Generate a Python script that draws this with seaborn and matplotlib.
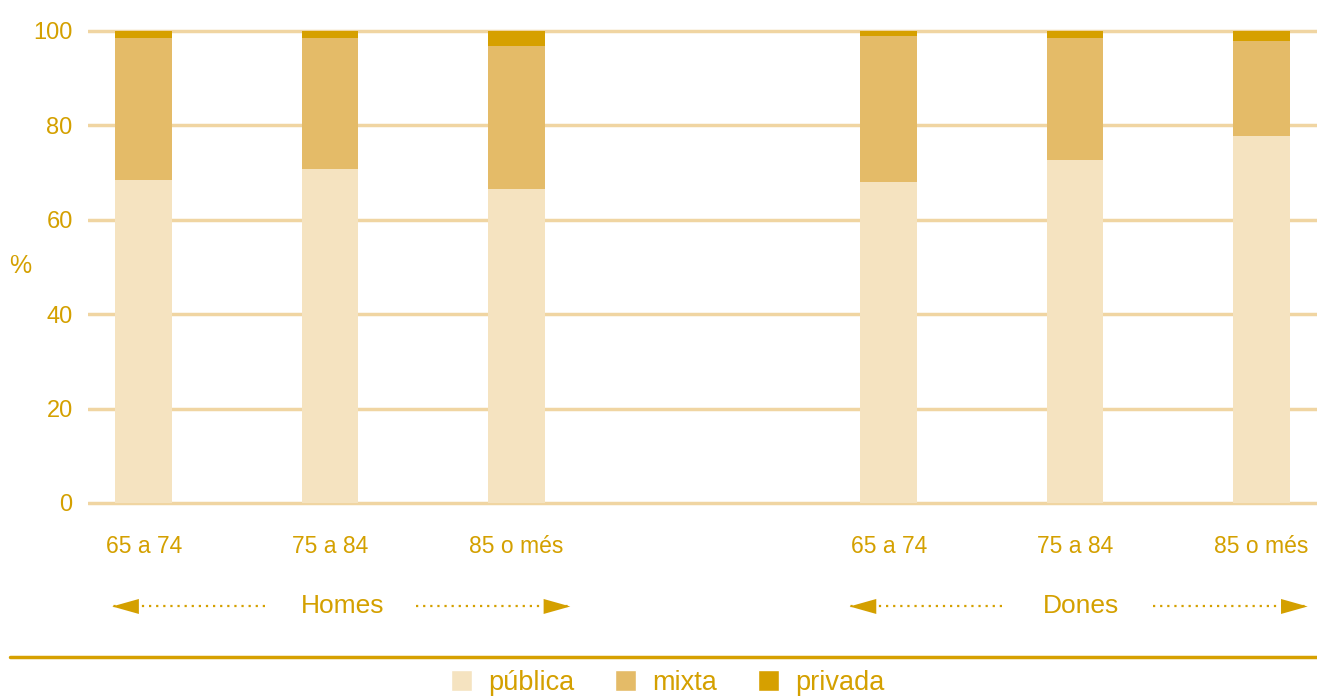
import matplotlib.pyplot as plt
import seaborn as sns
import pandas as pd
import numpy as np
from matplotlib.patches import Patch

# dades
grups = ['Homes', 'Dones']
edats = ['65 a 74', '75 a 84', '85 o més']
publica = [68.4, 70.8, 66.5, 68.0, 72.7, 77.8]
mixta = [30.1, 27.7, 30.3, 30.9, 25.8, 20.1]
privada = [1.5, 1.5, 3.2, 1.1, 1.5, 2.1]
posicions = [0, 1, 2, 4, 5, 6]

c_pub = '#F5E3C0'
c_mix = '#E4BB68'
c_priv = '#D6A000'
c_text = '#D4A000'
c_grid = '#F0D5A2'

sns.set_theme(style='white')
plt.rcParams['font.family'] = ['Liberation Sans Narrow', 'Liberation Sans', 'DejaVu Sans']

df = pd.DataFrame({'pos': posicions, 'publica': publica, 'mixta': mixta, 'privada': privada})
df['cum_mix'] = df['publica'] + df['mixta']
df['cum_priv'] = df['cum_mix'] + df['privada']

fig = plt.figure(figsize=(13.17, 6.98), dpi=100)
ax = fig.add_axes([88 / 1317, 0.2754, 1 - 88 / 1317, 0.687])

for col, c in [('cum_priv', c_priv), ('cum_mix', c_mix), ('publica', c_pub)]:
    sns.barplot(data=df, x='pos', y=col, native_scale=True, color=c, width=0.305,
                saturation=1, edgecolor='none', linewidth=0, ax=ax, zorder=3)

ax.set_xlim(-0.3, 6.3)
ax.set_ylim(-0.6, 101)
ax.set_yticks([0, 20, 40, 60, 80, 100])
ax.yaxis.grid(True, color=c_grid, linewidth=2.5, zorder=0)
ax.xaxis.grid(False)
for s in ax.spines.values():
    s.set_visible(False)
ax.set_xticks(posicions)
ax.set_xticklabels(edats * 2)
ax.tick_params(axis='x', length=0, pad=21, labelsize=16.5, labelcolor=c_text)
ax.tick_params(axis='y', length=0, pad=11, labelsize=17, labelcolor=c_text)
ax.set_xlabel('')
ax.set_ylabel('%', rotation=0, fontsize=18, color=c_text, va='center', ha='center')
ax.yaxis.set_label_coords(20 / 1229 - 88 / 1229, 0.5)

# etiquetes de grup amb fletxes
trans = ax.get_xaxis_transform()
y_arr = -0.21
for nom, centre, esq, dre in [('Homes', 1.07, -0.17, 2.29), ('Dones', 5.03, 3.79, 6.25)]:
    ax.text(centre, y_arr, nom, transform=trans, ha='center', va='center',
            fontsize=19, color=c_text)
    for a, b in [(esq, centre - 0.42), (dre, centre + 0.39)]:
        ax.plot([b, a], [y_arr, y_arr], transform=trans, linestyle=(0, (1, 2.2)),
                color=c_text, linewidth=1.6, clip_on=False)
        d = 0.12 if a > b else -0.12
        ax.annotate('', xy=(a, y_arr), xytext=(a - d, y_arr), xycoords=trans,
                    textcoords=trans, annotation_clip=False,
                    arrowprops=dict(arrowstyle='-|>,head_length=1.6,head_width=0.45',
                                    color=c_text, lw=0, shrinkA=0, shrinkB=0))

# línia separadora
fig.add_artist(plt.Line2D([10 / 1317, 1.0], [1 - 657 / 698] * 2, color=c_priv, linewidth=2.5))

handles = [Patch(facecolor=c_pub), Patch(facecolor=c_mix), Patch(facecolor=c_priv)]
leg = fig.legend(handles, ['pública', 'mixta', 'privada'], loc='center',
                 bbox_to_anchor=(0.507, 1 - 683 / 698), ncol=3, frameon=False,
                 fontsize=19.5, handlelength=0.78, handleheight=0.78, handletextpad=0.6,
                 columnspacing=1.5, borderaxespad=0)
for t in leg.get_texts():
    t.set_color(c_text)

fig.savefig('out.png', dpi=100)
